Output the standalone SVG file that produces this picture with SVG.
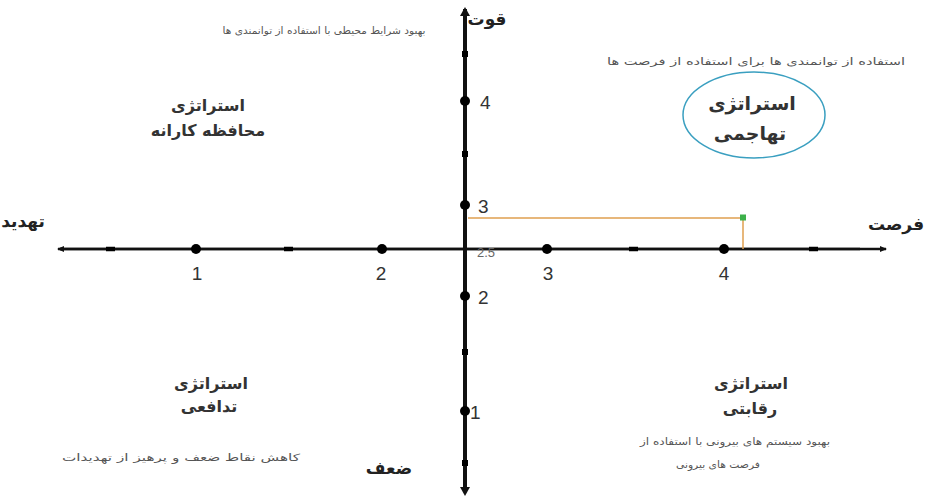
<svg xmlns="http://www.w3.org/2000/svg" width="931" height="499" viewBox="0 0 931 499">
<style>
.fa{font-family:"DejaVu Sans",sans-serif;direction:rtl;text-anchor:middle;fill:#222}
.ax{font-size:17px;font-weight:bold}
.ti{font-size:16px;font-weight:bold;fill:#333}
.sm{font-size:10px;fill:#555}
.num{font-family:"Liberation Sans",Arial,sans-serif;font-size:19px;fill:#333;text-anchor:middle}
.vnum{text-anchor:start}
.axis{stroke:#111;fill:none}
.tick{stroke:#000;stroke-width:4.5}
.vtick{stroke:#000;stroke-width:6}
.dot{fill:#000}
</style>
<defs>
<marker id="ah" markerWidth="8" markerHeight="8" refX="6" refY="4" orient="auto" markerUnits="userSpaceOnUse">
<path d="M0,1 L7,4 L0,7 Z" fill="#111"/>
</marker>
</defs>
<rect width="931" height="499" fill="#fff"/>
<g id="connectors">
<line class="axis" x1="60" y1="249" x2="886" y2="249" marker-end="url(#ah)" stroke-width="2.5"/>
<line class="axis" x1="860" y1="249" x2="58" y2="249" marker-end="url(#ah)" stroke-width="2.5"/>
<line class="axis" x1="465" y1="490" x2="465" y2="9" stroke-width="4"/>
<path d="M460,16 L465,7 L470,16 Z" fill="#111"/>
<path d="M460,487 L465,496 L470,487 Z" fill="#111"/>
<line class="tick" x1="106" y1="249" x2="115" y2="249"/>
<line class="tick" x1="284" y1="249" x2="293" y2="249"/>
<line class="tick" x1="629" y1="249" x2="638" y2="249"/>
<line class="tick" x1="809" y1="249" x2="818" y2="249"/>
<line class="vtick" x1="465" y1="51" x2="465" y2="57"/>
<line class="vtick" x1="465" y1="151" x2="465" y2="157"/>
<line class="vtick" x1="465" y1="349" x2="465" y2="355"/>
<line class="vtick" x1="465" y1="460" x2="465" y2="466"/>
<polyline points="468,218 743,218 743,249" fill="none" stroke="#e0a050" stroke-width="1.5"/>
<rect x="740" y="214.5" width="6" height="6" fill="#3cb04a"/>
</g>
<g id="points">
<circle class="dot" cx="196" cy="249" r="5"/>
<circle class="dot" cx="382" cy="249" r="5"/>
<circle class="dot" cx="547" cy="249" r="5"/>
<circle class="dot" cx="724" cy="249" r="5"/>
<circle class="dot" cx="465" cy="101" r="5"/>
<circle class="dot" cx="465" cy="205" r="5"/>
<circle class="dot" cx="465" cy="296" r="5"/>
<circle class="dot" cx="465" cy="411" r="5"/>
</g>
<g id="numbers">
<text class="num" x="197" y="280">1</text>
<text class="num" x="381" y="280">2</text>
<text class="num" x="548" y="280">3</text>
<text class="num" x="724" y="280">4</text>
<text class="num vnum" x="480" y="109">4</text>
<text class="num vnum" x="478" y="213">3</text>
<text class="num vnum" x="478" y="304">2</text>
<text class="num vnum" x="470" y="419">1</text>
<text class="num vnum" x="477" y="257" style="font-size:13px;fill:#666">2.5</text>
</g>
<g id="axis-labels">
<text class="fa ax" x="487" y="25">قوت</text>
<text class="fa ax" x="389" y="474">ضعف</text>
<text class="fa ax" x="23" y="227">تهدید</text>
<text class="fa ax" x="896" y="230">فرصت</text>
</g>
<g id="q-top-left">
<text class="fa sm" x="324" y="34" textLength="203" lengthAdjust="spacingAndGlyphs">بهبود شرایط محیطی با استفاده از توانمندی ها</text>
<text class="fa ti" x="208" y="111">استراتژی</text>
<text class="fa ti" x="208" y="136">محافظه کارانه</text>
</g>
<g id="q-top-right">
<text class="fa sm" x="756" y="65" textLength="298" lengthAdjust="spacingAndGlyphs">استفاده از توانمندی ها برای استفاده از فرصت ها</text>
<ellipse cx="754" cy="115" rx="71" ry="43" fill="none" stroke="#3a9fc0" stroke-width="1.5"/>
<text class="fa ti" x="752" y="110" style="font-size:19px">استراتژی</text>
<text class="fa ti" x="750" y="140" style="font-size:19px">تهاجمی</text>
</g>
<g id="q-bottom-left">
<text class="fa ti" x="211" y="389">استراتژی</text>
<text class="fa ti" x="209" y="412">تدافعی</text>
<text class="fa sm" x="181" y="461" textLength="238" lengthAdjust="spacingAndGlyphs">کاهش نقاط ضعف و پرهیز از تهدیدات</text>
</g>
<g id="q-bottom-right">
<text class="fa ti" x="751" y="389">استراتژی</text>
<text class="fa ti" x="750" y="414">رقابتی</text>
<text class="fa sm" x="735" y="445" textLength="190" lengthAdjust="spacingAndGlyphs">بهبود سیستم های بیرونی با استفاده از</text>
<text class="fa sm" x="718" y="468" textLength="84" lengthAdjust="spacingAndGlyphs">فرصت های بیرونی</text>
</g>
</svg>
